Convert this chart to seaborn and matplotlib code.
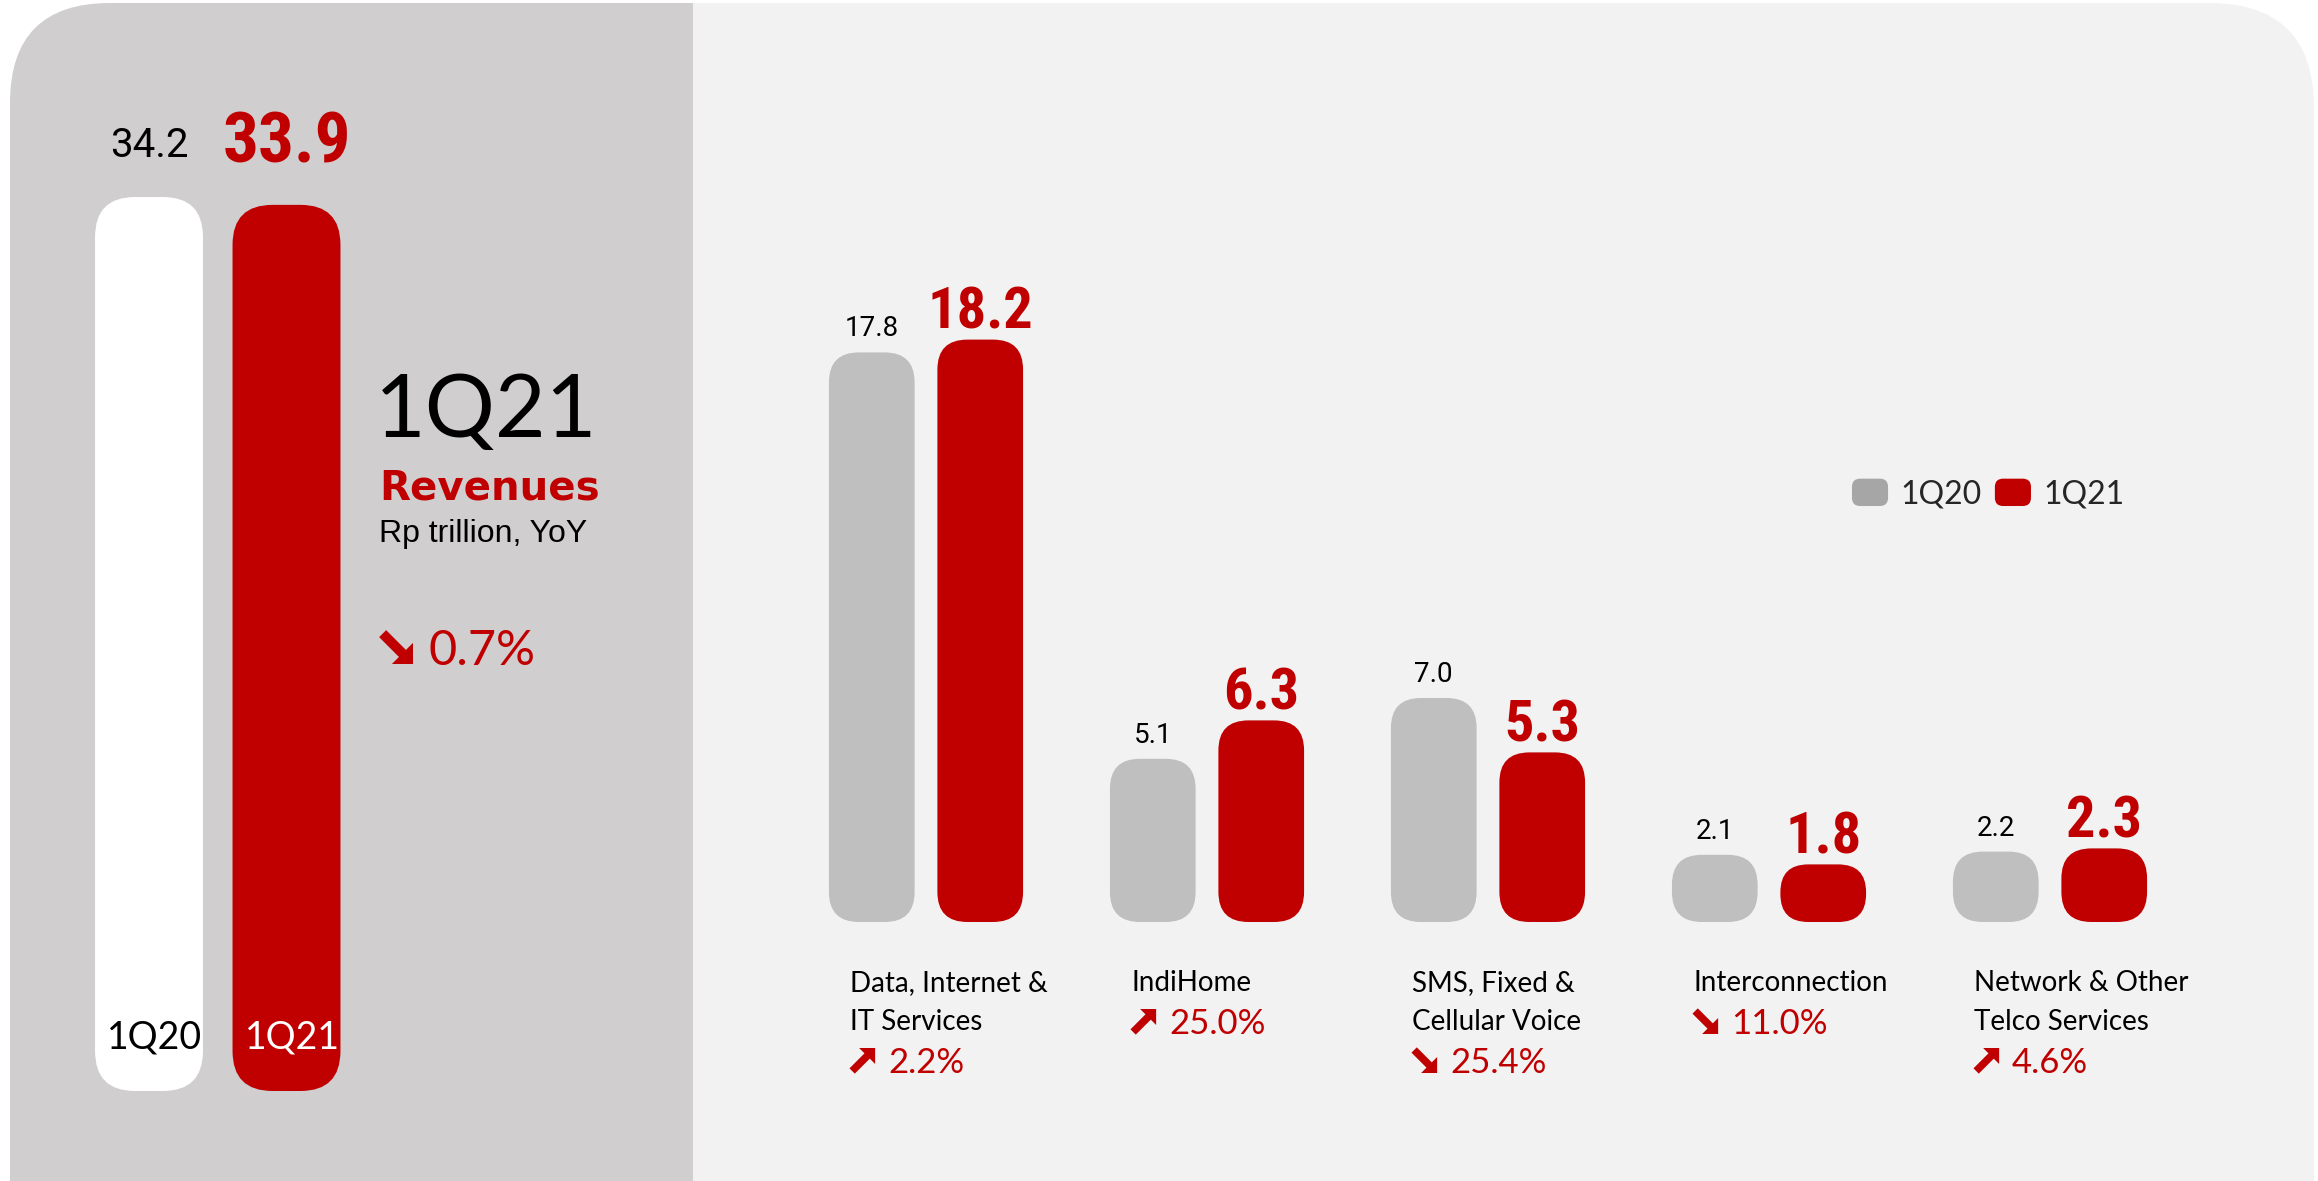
import matplotlib
matplotlib.use("Agg")
import matplotlib.pyplot as plt
import numpy as np
import pandas as pd
import seaborn as sns
from matplotlib.patches import FancyBboxPatch, Rectangle, Patch, FancyArrow
from matplotlib.legend_handler import HandlerPatch
from matplotlib import transforms
import logging

# ---------------- data ----------------
total_periods = ["1Q20", "1Q21"]
total_values = [34.2, 33.9]
total_change = "0.7%"
total_direction = "down"

categories = ["Data, Internet &\nIT Services", "IndiHome", "SMS, Fixed &\nCellular Voice",
              "Interconnection", "Network & Other\nTelco Services"]
values_1q20 = [17.8, 5.1, 7.0, 2.1, 2.2]
values_1q21 = [18.2, 6.3, 5.3, 1.8, 2.3]
yoy_change = ["2.2%", "25.0%", "25.4%", "11.0%", "4.6%"]
yoy_direction = ["up", "up", "down", "down", "up"]

title_period = "1Q21"
title_metric = "Revenues"
title_unit = "Rp trillion, YoY"

# ---------------- style ----------------
W, H, DPI = 2318, 1181, 100
RED = "#C00000"
GREY_BAR = "#BFBFBF"
GREY_LEG = "#A6A6A6"
LEFT_BG = "#D0CECF"
RIGHT_BG = "#F2F2F2"
BOLD_NUM_FONT = ["Liberation Sans Narrow", "Roboto Condensed", "Roboto", "DejaVu Sans"]
NUM_FONT = ["Roboto", "DejaVu Sans"]
TXT_FONT = ["Lato", "DejaVu Sans"]

sns.set_theme(style="white")
plt.rcParams['font.family'] = TXT_FONT
logging.getLogger("matplotlib.font_manager").setLevel(logging.ERROR)

fig = plt.figure(figsize=(W / DPI, H / DPI), dpi=DPI)
fig.patch.set_facecolor("white")


def px_axes(x0, y0, x1, y1):
    return fig.add_axes([x0 / W, 1 - y1 / H, (x1 - x0) / W, (y1 - y0) / H])


# background axes in pixel coordinates (y downwards)
ax_bg = px_axes(0, 0, W, H)
ax_bg.set_xlim(0, W)
ax_bg.set_ylim(H, 0)
ax_bg.axis("off")
ax_bg.add_patch(FancyBboxPatch((600, 3), 2314 - 600, 1400, boxstyle="round,pad=0,rounding_size=105",
                               fc=RIGHT_BG, ec="none", zorder=0))
ax_bg.add_patch(FancyBboxPatch((10, 3), 800 - 10, 1400, boxstyle="round,pad=0,rounding_size=100",
                               fc=LEFT_BG, ec="none", zorder=1))
ax_bg.add_patch(Rectangle((693, 3), 130, 1400, fc=RIGHT_BG, ec="none", zorder=2))


def draw_arrow(x, yb, s, direction):
    """Heavy diagonal arrow inside an s-by-s pixel box whose left edge is x and bottom is yb."""
    if direction == "down":
        tail = (x + 0.08 * s, yb - s + 0.08 * s)
        tip = (x + s, yb)
    else:
        tail = (x + 0.08 * s, yb - 0.08 * s)
        tip = (x + s, yb - s)
    dx, dy = tip[0] - tail[0], tip[1] - tail[1]
    leg = 0.64 * s
    ax_bg.add_patch(FancyArrow(tail[0], tail[1], dx, dy, width=0.30 * s, head_width=leg * np.sqrt(2),
                               head_length=leg / np.sqrt(2), length_includes_head=True,
                               fc=RED, ec="none", zorder=5))


def round_bars(ax, r_px, px_x, px_y):
    for p in list(ax.patches):
        x, y, w, h = p.get_x(), p.get_y(), p.get_width(), p.get_height()
        fc = p.get_facecolor()
        p.remove()
        r = min(r_px, w * px_x / 2 - 1, h * px_y / 2 - 1)
        ax.add_patch(FancyBboxPatch((x, y), w, h,
                                    boxstyle=f"round,pad=0,rounding_size={r / px_x}",
                                    mutation_aspect=px_x / px_y, fc=fc, ec="none", zorder=3))


# ---------------- left panel: total ----------------
L_X0, L_PXX, L_BASE, L_PXY = 149, 137.5, 1091, 26.14
axL = px_axes(10, 0, 693, H)
dfL = pd.DataFrame({"period": total_periods, "value": total_values})
sns.barplot(data=dfL, x="period", y="value", hue="period", palette=["#FFFFFF", RED],
            width=0.785, saturation=1, legend=False, ax=axL)
axL.set_xlim((10 - L_X0) / L_PXX, (693 - L_X0) / L_PXX)
axL.set_ylim(-(H - L_BASE) / L_PXY, L_BASE / L_PXY)
axL.axis("off")
round_bars(axL, 40, L_PXX, L_PXY)

transL = transforms.blended_transform_factory(axL.transData, ax_bg.transData)
for i, (per, val) in enumerate(zip(total_periods, total_values)):
    last = i == len(total_values) - 1
    if last:
        axL.annotate(f"{val:.1f}", (i, val), xytext=(0, 42), textcoords="offset pixels",
                     ha="center", va="baseline", color=RED, fontsize=51, fontweight="bold",
                     family=BOLD_NUM_FONT)
    else:
        axL.annotate(f"{val:.1f}", (i, val), xytext=(0, 40), textcoords="offset pixels",
                     ha="center", va="baseline", color="black", fontsize=29, family=NUM_FONT)
    axL.text(i + 0.04, 1049, per, transform=transL, ha="center", va="baseline",
             color="white" if last else "black", fontsize=27, family=TXT_FONT)

ax_bg.text(375, 437, title_period, fontsize=63, family=TXT_FONT,
           color="black", va="baseline", ha="left")
ax_bg.text(379, 500, title_metric, fontsize=29, fontweight="bold", family=["DejaVu Sans"],
           color=RED, va="baseline", ha="left")
ax_bg.text(379, 542, title_unit, fontsize=23, family=["Liberation Sans", "DejaVu Sans"],
           color="black", va="baseline", ha="left")
draw_arrow(380, 664, 33, total_direction)
ax_bg.text(428, 665, total_change, fontsize=35, family=TXT_FONT,
           color=RED, va="baseline", ha="left")

# ---------------- right panel: breakdown ----------------
R_X0, R_PXX, R_BASE, R_PXY = 926, 281, 922, 32
axR = px_axes(693, 0, 2314, H)
df = pd.DataFrame({
    "category": categories * 2,
    "value": values_1q20 + values_1q21,
    "period": [total_periods[0]] * len(categories) + [total_periods[1]] * len(categories),
})
sns.barplot(data=df, x="category", y="value", hue="period", palette=[GREY_BAR, RED],
            width=0.772, gap=0.21, saturation=1, legend=False, ax=axR)
axR.set_xlim((693 - R_X0) / R_PXX, (2314 - R_X0) / R_PXX)
axR.set_ylim(-(H - R_BASE) / R_PXY, R_BASE / R_PXY)
axR.axis("off")

# value labels
for p in axR.patches:
    xc = p.get_x() + p.get_width() / 2
    val = p.get_height()
    fc = p.get_facecolor()
    is_new = fc[0] > 0.6 and fc[1] < 0.3
    if is_new:
        axR.annotate(f"{val:.1f}", (xc, val), xytext=(0, 11), textcoords="offset pixels",
                     ha="center", va="baseline", color=RED, fontsize=42, fontweight="bold",
                     family=BOLD_NUM_FONT)
    else:
        axR.annotate(f"{val:.1f}", (xc, val), xytext=(0, 16), textcoords="offset pixels",
                     ha="center", va="baseline", color="black", fontsize=20, family=NUM_FONT)
round_bars(axR, 30, R_PXX, R_PXY)

transR = transforms.blended_transform_factory(axR.transData, ax_bg.transData)
for i, (cat, chg, d) in enumerate(zip(categories, yoy_change, yoy_direction)):
    xl = i - 0.27
    lines = cat.split("\n")
    y = 991
    for k, line in enumerate(lines):
        y = 991 + 39 * k
        axR.text(xl, y, line, transform=transR, ha="left", va="baseline", fontsize=20,
                 family=TXT_FONT, color="black")
    y += 43
    draw_arrow(R_X0 + xl * R_PXX, y, 25, d)
    axR.annotate(chg, (xl, y), xycoords=transR, xytext=(38, 0), textcoords="offset pixels",
                 ha="left", va="baseline", fontsize=25,
                 family=TXT_FONT, color=RED)


def round_handle(legend, orig_handle, xdescent, ydescent, width, height, fontsize):
    return FancyBboxPatch((-xdescent, -ydescent), width, height,
                          boxstyle=f"round,pad=0,rounding_size={height * 0.3}")


axR.legend(handles=[Patch(fc=GREY_LEG, ec="none"), Patch(fc=RED, ec="none")], labels=total_periods,
           loc="center left", bbox_to_anchor=(1836 / W, 1 - 494 / H), bbox_transform=fig.transFigure,
           frameon=False, ncol=2, handlelength=1.13, handleheight=0.94, handletextpad=0.4,
           columnspacing=0.4, borderpad=0, prop={"family": "Lato", "size": 23},
           handler_map={Patch: HandlerPatch(patch_func=round_handle)})

fig.savefig("out.png", dpi=DPI, facecolor="white")
